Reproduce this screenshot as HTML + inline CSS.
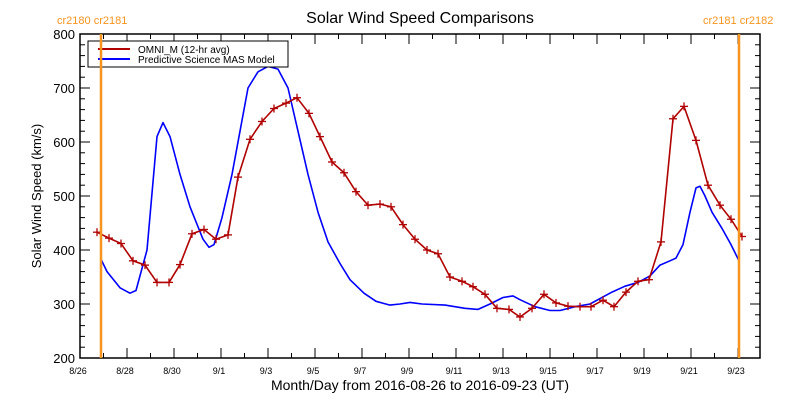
<!DOCTYPE html>
<html><head><meta charset="utf-8"><style>
html,body{margin:0;padding:0;background:#fff}
svg{display:block;font-family:"Liberation Sans",sans-serif}
</style></head><body>
<svg id="s" width="800" height="400" viewBox="0 0 800 400">
<rect width="800" height="400" fill="#fff"/>
<text x="420" y="23" font-size="16" text-anchor="middle" fill="#000">Solar Wind Speed Comparisons</text>
<text x="420" y="390" font-size="14" text-anchor="middle" fill="#000">Month/Day from 2016-08-26 to 2016-09-23 (UT)</text>
<text transform="translate(41,196) rotate(-90)" font-size="13" text-anchor="middle" fill="#000">Solar Wind Speed (km/s)</text>
<text x="57" y="24" font-size="11" fill="#f7941d">cr2180 cr2181</text>
<text x="703" y="24" font-size="11" fill="#f7941d">cr2181 cr2182</text>
<g id="ax"></g>
<polyline id="blue" fill="none" stroke="#0000ff" stroke-width="1.6" stroke-linejoin="round"/>
<polyline id="red" fill="none" stroke="#b00000" stroke-width="1.6"/>
<g id="marks" stroke="#b00000" stroke-width="1.3"></g>
<rect x="88" y="41" width="200" height="26" fill="#fff" stroke="#000" stroke-width="1"/>
<line x1="98" y1="49" x2="130" y2="49" stroke="#b00000" stroke-width="2"/>
<line x1="98" y1="59" x2="130" y2="59" stroke="#0000ff" stroke-width="2"/>
<text x="138" y="53" font-size="10" fill="#000">OMNI_M (12-hr avg)</text>
<text x="138" y="63" font-size="10" fill="#000">Predictive Science MAS Model</text>
<line x1="101" y1="34" x2="101" y2="358" stroke="#f7941d" stroke-width="2.5"/>
<line x1="739" y1="34" x2="739" y2="358" stroke="#f7941d" stroke-width="2.5"/>
</svg>
<script>
function Y(v){return 358-(v-200)*0.54;}
var ax=document.getElementById("ax"),h="";
h+='<rect x="80" y="34" width="680" height="324" fill="none" stroke="#000" stroke-width="1.5"/>';
for(var v=200;v<=800;v+=20){var y=Y(v),L=(v%100==0)?10:5;
h+='<line x1="80" y1="'+y+'" x2="'+(80+L)+'" y2="'+y+'" stroke="#000"/>';
h+='<line x1="760" y1="'+y+'" x2="'+(760-L)+'" y2="'+y+'" stroke="#000"/>';
if(v%100==0)h+='<text x="75" y="'+(y+5)+'" font-size="13" text-anchor="end">'+v+'</text>';}
var labs=["8/26","8/28","8/30","9/1","9/3","9/5","9/7","9/9","9/11","9/13","9/15","9/17","9/19","9/21","9/23"];
for(var d=0;d<=28;d++){var x=80+23.5*d,L=(d%2==0)?10:5;
h+='<line x1="'+x+'" y1="358" x2="'+x+'" y2="'+(358-L)+'" stroke="#000"/>';
h+='<line x1="'+x+'" y1="34" x2="'+x+'" y2="'+(34+L)+'" stroke="#000"/>';
if(d%2==0)h+='<text x="'+(x-2)+'" y="374" font-size="9" text-anchor="middle">'+labs[d/2]+'</text>';}
ax.innerHTML=h;
var red=[[97,433],[109,422],[121,412],[133,380],[145,372],[157,340],[169,340],[180,373],[192,430],[204,438],[216,420],[228,428],[238,535],[250,605],[262,638],[274,662],[286,672],[297,682],[309,653],[320,610],[332,563],[344,543],[356,508],[368,483],[380,485],[391,480],[403,447],[415,420],[427,400],[438,393],[450,350],[462,342],[473,332],[485,318],[497,292],[509,290],[520,276],[532,292],[544,318],[556,302],[568,296],[580,295],[591,295],[603,307],[614,295],[626,322],[638,342],[649,345],[661,415],[673,643],[684,666],[696,603],[708,520],[720,483],[731,457],[742,425]];
var blue=[[101,383],[107,360],[120,330],[130,320],[136,325],[147,400],[157,610],[163,636],[170,610],[180,540],[190,480],[203,420],[209,405],[214,410],[222,460],[232,540],[240,620],[248,700],[258,730],[268,740],[278,735],[288,700],[298,620],[308,540],[318,470],[328,415],[340,375],[350,345],[364,320],[376,305],[390,298],[400,300],[410,303],[422,300],[445,298],[465,292],[478,290],[490,300],[503,312],[513,315],[520,308],[535,295],[550,288],[560,288],[575,295],[590,300],[600,310],[612,322],[625,333],[638,340],[650,352],[660,372],[670,380],[676,385],[683,410],[690,470],[696,515],[700,518],[705,500],[712,470],[722,440],[731,410],[739,380]];
function pts(a){return a.map(function(p){return p[0]+","+Y(p[1]).toFixed(1)}).join(" ");}
document.getElementById("red").setAttribute("points",pts(red));
document.getElementById("blue").setAttribute("points",pts(blue));
var m="";red.forEach(function(p){var x=p[0],y=Y(p[1]);
m+='<line x1="'+(x-4)+'" y1="'+y+'" x2="'+(x+4)+'" y2="'+y+'"/><line x1="'+x+'" y1="'+(y-4)+'" x2="'+x+'" y2="'+(y+4)+'"/>';});
document.getElementById("marks").innerHTML=m;
</script>
</body></html>
